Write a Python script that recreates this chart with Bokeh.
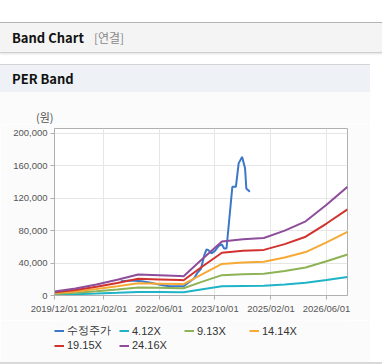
import pandas as pd
from bokeh.plotting import figure
from bokeh.models import (Range1d, FixedTicker, DatetimeTickFormatter, NumeralTickFormatter,
                          Legend, LegendItem, Div)
from bokeh.layouts import column
from bokeh.embed import file_html
from bokeh.resources import INLINE

# ---------------- data ----------------
band_dates = ["2019-12-01", "2020-06-01", "2020-12-01", "2021-06-01", "2021-12-01", "2022-06-01",
              "2022-12-01", "2023-01-01", "2023-06-01", "2023-12-01", "2024-06-01", "2024-12-01",
              "2025-06-01", "2025-12-01", "2026-06-01", "2026-12-01"]
band_412 = [853, 1467, 2319, 3325, 4434, 4263, 4093, 4059, 7418, 11340, 11852, 12108, 13642, 15603, 19099, 22851]
band_913 = [1890, 3250, 5139, 7369, 9825, 9448, 9070, 8994, 16439, 25130, 26264, 26831, 30232, 34578, 42325, 50639]
band_1414 = [2926, 5033, 7960, 11413, 15217, 14632, 14046, 13929, 25459, 38920, 40676, 41553, 46821, 53551, 65549, 78425]
band_1915 = [3963, 6817, 10780, 15456, 20608, 19816, 19023, 18865, 34480, 52710, 55088, 56277, 63410, 72526, 88775, 106212]
band_2416 = [5000, 8600, 13600, 19500, 26000, 25000, 24000, 23800, 43500, 66500, 69500, 71000, 80000, 91500, 112000, 134000]

price_dates = ["2021-07-01", "2021-10-01", "2022-01-01", "2022-04-01", "2022-07-01", "2022-09-01",
               "2023-01-01", "2023-04-01", "2023-05-01", "2023-06-01", "2023-07-01", "2023-07-20",
               "2023-08-05", "2023-09-01", "2023-10-01", "2023-11-01", "2023-12-01", "2023-12-20",
               "2024-01-10", "2024-03-01", "2024-04-01", "2024-04-25", "2024-05-25", "2024-06-20",
               "2024-07-01", "2024-08-01"]
price = [17500, 18500, 17500, 15500, 12500, 11500, 11500, 21000, 28000, 33000, 50000, 57000,
         56000, 52000, 55000, 61000, 63000, 58000, 58000, 134000, 134000, 163000, 171000, 157000,
         132000, 128000]

series_names = ["수정주가", "4.12X", "9.13X", "14.14X", "19.15X", "24.16X"]
series_colors = ["#3b78c9", "#1fb3c7", "#8db356", "#f6a935", "#d2322d", "#8e4d9b"]
x_tick_dates = ["2019-12-01", "2021-02-01", "2022-06-01", "2023-10-01", "2025-02-01", "2026-06-01"]
y_ticks = [0, 40000, 80000, 120000, 160000, 200000]
x_start, x_end = "2019-12-01", "2026-12-01"
y_end = 206000
unit_label = "(원)"

def ms(d):
    return pd.Timestamp(d).value // 10**6

bd = pd.to_datetime(band_dates)
pdt = pd.to_datetime(price_dates)
PANEL = "#fbfbfb"
series_x = [pdt, bd, bd, bd, bd, bd]
series_y = [price, band_412, band_913, band_1414, band_1915, band_2416]

# ---------------- header (HTML) ----------------
font = "'Noto Sans CJK KR','Noto Sans',sans-serif"
html = f"""
<div style="position:relative;width:382px;height:124px;background:#ffffff;font-family:{font};">
 <div style="position:absolute;left:0;top:22px;width:382px;height:31px;box-sizing:border-box;background:#f4f4f4;border-top:1px solid #b4b4b4;border-bottom:1px solid #cfcfcf;box-shadow:0 1px 2px rgba(0,0,0,0.12);"></div>
 <div style="position:absolute;left:12px;top:22px;height:31px;line-height:31px;font-size:13px;font-weight:bold;color:#111;white-space:nowrap;">Band Chart<span style="font-weight:normal;color:#8a8a8a;font-size:12px;margin-left:10px;">[연결]</span></div>
 <div style="position:absolute;left:0;top:64px;width:370px;height:28px;box-sizing:border-box;background:#eef2f7;border-top:1px solid #d4d4d4;"></div>
 <div style="position:absolute;left:12px;top:65px;height:28px;line-height:28px;font-size:13px;font-weight:bold;color:#111;white-space:nowrap;">PER Band</div>
 <div style="position:absolute;left:0;top:92px;width:370px;height:32px;background:{PANEL};"></div>
 <div style="position:absolute;left:36px;top:109px;height:16px;line-height:16px;font-size:11px;color:#555;white-space:nowrap;">{unit_label}</div>
</div>
"""
header = Div(text=html, width=382, height=124, margin=(0, 0, 0, 0))

# ---------------- chart ----------------
p = figure(width=370, height=196, output_backend="svg", toolbar_location=None,
           x_axis_type="datetime",
           x_range=Range1d(ms(x_start), ms(x_end)), y_range=Range1d(0, y_end),
           min_border_left=54, min_border_right=23, min_border_top=4, min_border_bottom=25,
           background_fill_color="#ffffff", border_fill_color=PANEL,
           outline_line_color="#b0b0b0", margin=(0, 0, 0, 0))

for xs, ys, col in zip(series_x, series_y, series_colors):
    p.line(xs, ys, line_color=col, line_width=2)

p.xaxis.ticker = FixedTicker(ticks=[ms(d) for d in x_tick_dates])
fmt = "%Y/%m/%d"
p.xaxis.formatter = DatetimeTickFormatter(days=fmt, months=fmt, years=fmt)
p.yaxis.ticker = FixedTicker(ticks=y_ticks)
p.yaxis.formatter = NumeralTickFormatter(format="0,0")

for ax in (p.xaxis[0], p.yaxis[0]):
    ax.axis_line_color = "#b0b0b0"
    ax.major_tick_line_color = "#b0b0b0"
    ax.major_tick_in = 0
    ax.major_tick_out = 4
    ax.minor_tick_line_color = None
    ax.major_label_text_font = "Liberation Sans"
    ax.major_label_text_font_size = "9.5px"
    ax.major_label_text_color = "#555555"
    ax.major_label_standoff = 3
p.grid.grid_line_color = "#e6e6e6"

# ---------------- legend (own small canvas so it is not clipped) ----------------
pl = figure(width=370, height=42, output_backend="svg", toolbar_location=None,
            x_range=Range1d(0, 1), y_range=Range1d(0, 1),
            x_axis_location=None, y_axis_location=None,
            min_border=0, outline_line_color=None,
            background_fill_color=PANEL, border_fill_color=PANEL, margin=(0, 0, 0, 0))
pl.grid.visible = False
# same series, drawn far outside this canvas's ranges: only their legend glyphs show
leg_r = [pl.line(xs, ys, line_color=c, line_width=2)
         for xs, ys, c in zip(series_x, series_y, series_colors)]
items = [LegendItem(label=n, renderers=[rr]) for n, rr in zip(series_names, leg_r)]

def make_legend(its, loc):
    return Legend(items=its, orientation="horizontal", location=loc,
                  glyph_width=10, glyph_height=11, label_width=50, label_height=11,
                  label_standoff=3, spacing=2, padding=1, margin=0,
                  border_line_color=None, background_fill_alpha=0,
                  label_text_font="Liberation Sans", label_text_font_size="11px",
                  label_text_color="#333333")

pl.add_layout(make_legend(items[:4], (0, 24)), "center")
pl.add_layout(make_legend(items[4:], (0, 11)), "center")

footer = Div(text="", width=382, height=2, margin=(0, 0, 0, 0),
             styles={"background-color": "#d9d9d9"})

layout = column(header, p, pl, footer, spacing=0,
                styles={"position": "absolute", "left": "0px", "top": "0px"})

open("out.html", "w").write(file_html(layout, INLINE))
